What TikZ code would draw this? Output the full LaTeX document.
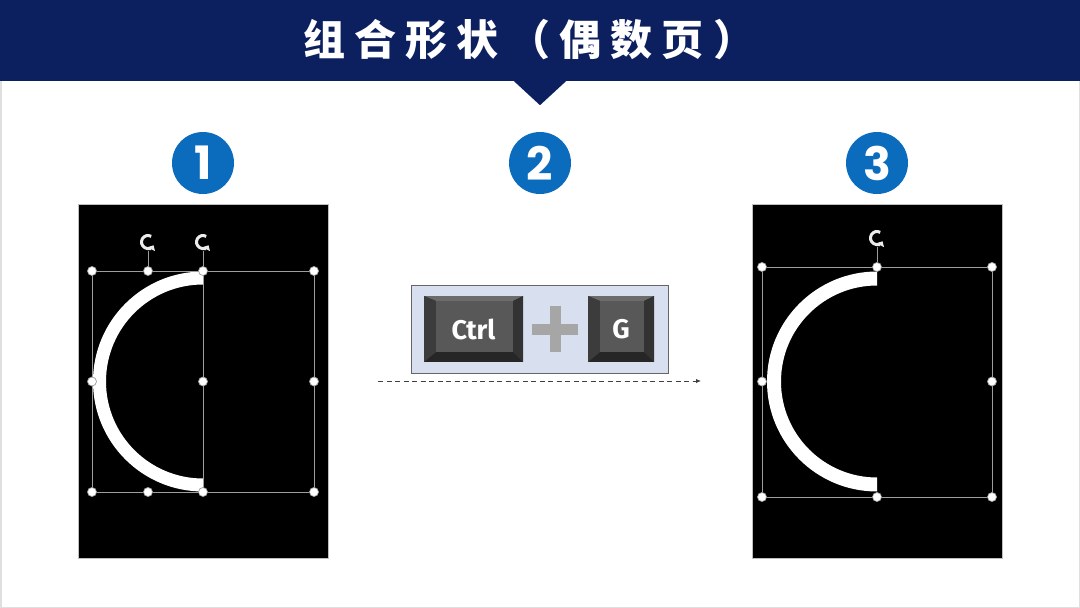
\documentclass[tikz,border=0pt]{standalone}
\usepackage{fontspec}
\newfontfamily\cjkfont{Noto Sans CJK SC}[LetterSpace=22]
\newfontfamily\numfont{Poppins}
\newfontfamily\keyfont{Fira Sans}
\usetikzlibrary{arrows.meta,calc}

\definecolor{navy}{HTML}{0C1F5E}
\definecolor{stepblue}{HTML}{0B6BBD}
\definecolor{selgray}{HTML}{9E9E9E}
\definecolor{padfill}{HTML}{D8DFEE}
\definecolor{plusgray}{HTML}{A6A6A6}
\definecolor{keyface}{HTML}{585858}
\definecolor{keytop}{HTML}{6C6C6C}
\definecolor{keyside}{HTML}{3C3C3C}
\definecolor{keyright}{HTML}{333333}
\definecolor{keybottom}{HTML}{262626}

\begin{document}
\begin{tikzpicture}[
    x=1pt, y=-1pt,
    banner/.style={rectangle, fill=navy, minimum width=1080, minimum height=81, inner sep=0pt},
    title/.style={text=white, font=\cjkfont\bfseries\fontsize{42}{42}\selectfont, inner sep=0pt, anchor=base west},
    stepnum/.style={circle, fill=stepblue, minimum size=62, inner sep=0pt, text=white, font=\numfont\bfseries\fontsize{46}{46}\selectfont},
    panel/.style={rectangle, fill=black, draw=gray!50, line width=0.6pt, minimum width=250, minimum height=354, inner sep=0pt},
    selline/.style={draw=selgray, line width=0.8pt},
    handle/.style={circle, fill=white, draw=selgray, line width=0.7pt, minimum size=9, inner sep=0pt},
    rothandle/.style={circle, minimum size=18, inner sep=0pt},
    rotglyph/.style={draw=gray!15, line width=3pt, -{Triangle[length=4.5pt, width=8pt]}},
    arcband/.style={fill=white},
    pad/.style={rectangle, fill=padfill, draw=gray!80!black, line width=1pt, minimum width=257, minimum height=88, inner sep=0pt},
    keycap/.style={rectangle, fill=keybottom, text=white, minimum height=66, inner sep=0pt,
        font=\keyfont\bfseries\fontsize{27}{27}\selectfont,
        path picture={
            \coordinate (nw) at (path picture bounding box.north west);
            \coordinate (se) at (path picture bounding box.south east);
            \coordinate (ne) at (nw -| se);
            \coordinate (sw) at (se -| nw);
            \fill[keytop] (nw) -- (ne) -- ([shift={(-10,5)}]ne) -- ([shift={(12,5)}]nw) -- cycle;
            \fill[keyside] (nw) -- ([shift={(12,5)}]nw) -- ([shift={(12,-10)}]sw) -- (sw) -- cycle;
            \fill[keyright] (ne) -- (se) -- ([shift={(-10,-10)}]se) -- ([shift={(-10,5)}]ne) -- cycle;
            \fill[keyface] ([shift={(12,5)}]nw) rectangle ([shift={(-10,-10)}]se);
        }},
    plusbar/.style={rectangle, fill=plusgray, inner sep=0pt},
    flow/.style={draw=black!75, line width=0.9pt, dash pattern=on 5pt off 3.5pt, -{Latex[length=5pt, width=4.5pt]}}
]
\useasboundingbox (0,0) rectangle (1080,608);
\fill[white] (0,0) rectangle (1080,608);
\draw[gray!25, line width=1.5pt] (0.75,0.75) rectangle (1079.25,607.25);

% header
\node[banner] (banner) at (540,40.5) {};
\fill[navy] ([xshift=-26pt]banner.south) -- ([yshift=-24pt]banner.south) -- ([xshift=26pt]banner.south) -- cycle;
\node[title] (title) at (303,55) {组合形状（偶数页）};

% step numbers
\node[stepnum] (num1) at (203,163) {1};
\node[stepnum] (num2) at (540,163) {2};
\node[stepnum] (num3) at (877,163) {3};

% step 1: arc and helper rectangle selected
\node[panel] (panelL) at (203,381) {};
\coordinate (arcL) at (203,381.5);
\fill[arcband] (arcL) ++(90:110) arc[start angle=90, end angle=270, radius=110]
    -- ++(0,13) arc[start angle=270, end angle=90, radius=97] -- cycle;
\node[handle] (a1) at (92,271) {};
\node[handle] (a2) at (148,271) {};
\node[handle] (a3) at (203,271) {};
\node[handle] (a4) at (314,271) {};
\node[handle] (b1) at (92,381.5) {};
\node[handle] (b3) at (203,381.5) {};
\node[handle] (b4) at (314,381.5) {};
\node[handle] (c1) at (92,492) {};
\node[handle] (c2) at (148,492) {};
\node[handle] (c3) at (203,492) {};
\node[handle] (c4) at (314,492) {};
\node[rothandle] (rotA) at (148,242) {};
\node[rothandle] (rotB) at (203,242) {};
\draw[selline] (a1) -- (a2);
\draw[selline] (a2) -- (a3);
\draw[selline] (a3) -- (a4);
\draw[selline] (c1) -- (c2);
\draw[selline] (c2) -- (c3);
\draw[selline] (c3) -- (c4);
\draw[selline] (a1) -- (b1);
\draw[selline] (b1) -- (c1);
\draw[selline] (a3) -- (b3);
\draw[selline] (b3) -- (c3);
\draw[selline] (a4) -- (b4);
\draw[selline] (b4) -- (c4);
\draw[selline] (a2) -- (rotA);
\draw[selline] (a3) -- (rotB);
\draw[rotglyph] (rotA.center) ++(300:6.5) arc[start angle=300, end angle=30, radius=6.5];
\draw[rotglyph] (rotB.center) ++(300:6.5) arc[start angle=300, end angle=30, radius=6.5];

% step 2: shortcut
\node[pad] (pad) at (539.5,329) {};
\node[keycap, minimum width=99] (ctrl) at (473.5,329) {Ctrl};
\node[keycap, minimum width=66] (gkey) at (621,329) {G};
\node[plusbar, minimum width=46, minimum height=11] (plusH) at (555,329) {};
\node[plusbar, minimum width=11, minimum height=46] (plusV) at (555,329) {};
\coordinate (flowS) at (378,381);
\coordinate (flowE) at (701,381);
\draw[flow] (flowS) -- (flowE);

% step 3: combined shape
\node[panel] (panelR) at (877,381) {};
\coordinate (arcR) at (877,381.5);
\fill[arcband] (arcR) ++(90:110) arc[start angle=90, end angle=270, radius=110]
    -- ++(0,14) arc[start angle=270, end angle=90, radius=96] -- cycle;
\node[handle] (d1) at (762,267) {};
\node[handle] (d2) at (877,267) {};
\node[handle] (d3) at (992,267) {};
\node[handle] (e1) at (762,381.5) {};
\node[handle] (e3) at (992,381.5) {};
\node[handle] (f1) at (762,497) {};
\node[handle] (f2) at (877,497) {};
\node[handle] (f3) at (992,497) {};
\node[rothandle] (rotC) at (877,238) {};
\draw[selline] (d1) -- (d2);
\draw[selline] (d2) -- (d3);
\draw[selline] (f1) -- (f2);
\draw[selline] (f2) -- (f3);
\draw[selline] (d1) -- (e1);
\draw[selline] (e1) -- (f1);
\draw[selline] (d3) -- (e3);
\draw[selline] (e3) -- (f3);
\draw[selline] (d2) -- (rotC);
\draw[rotglyph] (rotC.center) ++(300:6.5) arc[start angle=300, end angle=30, radius=6.5];

\end{tikzpicture}
\end{document}
